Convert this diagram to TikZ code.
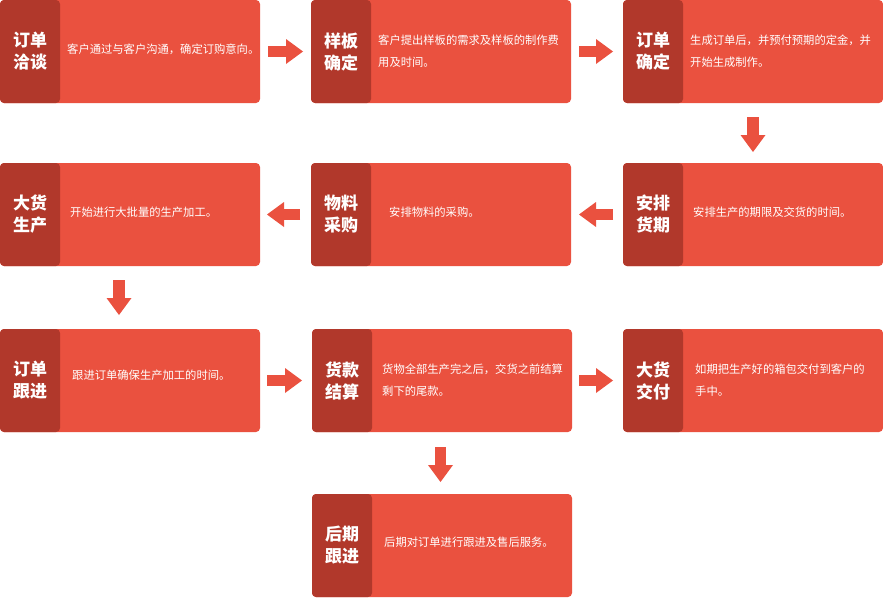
\documentclass[tikz,border=0pt]{standalone}
\usepackage{fontspec}
\newfontfamily\cjk{Noto Sans CJK SC}
\usetikzlibrary{arrows.meta}
\definecolor{boxred}{RGB}{234,81,63}
\definecolor{boxdark}{RGB}{177,56,43}

\begin{document}
\begin{tikzpicture}[x=1pt, y=1pt,
	card/.style={rectangle, rounded corners=4pt, fill=boxred, minimum width=260pt, minimum height=103pt, inner sep=0pt, outer sep=0pt,
		path picture={\fill[boxdark] (path picture bounding box.north west) rectangle ([xshift=60pt]path picture bounding box.south west);}},
	stagename/.style={text=white, font=\cjk\bfseries\fontsize{17}{22}\selectfont, align=center, inner sep=0pt},
	stagetext/.style={text=white, font=\cjk\fontsize{11.3}{22}\selectfont, align=left, anchor=west, inner sep=0pt},
	flow/.style={draw=boxred, line width=11.5pt, -{Triangle[length=17pt, width=25pt, line width=0pt]}}]
			\useasboundingbox (0,0) rectangle (883,-597);
			\node[card] (talk) at (130,-51.5) {};
			\node[stagename] (talk-n) at ([xshift=30]talk.west) {订单\\洽谈};
			\node[stagetext] (talk-d) at ([xshift=67,yshift=2]talk.west) {客户通过与客户沟通，确定订购意向。};
			\node[card] (sample) at (441,-51.5) {};
			\node[stagename] (sample-n) at ([xshift=30]sample.west) {样板\\确定};
			\node[stagetext] (sample-d) at ([xshift=67]sample.west) {客户提出样板的需求及样板的制作费\\用及时间。};
			\draw[flow] ([xshift=8]talk.east) -- ([xshift=-8]sample.west);
			\node[card] (confirm) at (753,-51.5) {};
			\node[stagename] (confirm-n) at ([xshift=30]confirm.west) {订单\\确定};
			\node[stagetext] (confirm-d) at ([xshift=67]confirm.west) {生成订单后，并预付预期的定金，并\\开始生成制作。};
			\draw[flow] ([xshift=8]sample.east) -- ([xshift=-10]confirm.west);
			\node[card] (sched) at (753,-214.5) {};
			\node[stagename] (sched-n) at ([xshift=30]sched.west) {安排\\货期};
			\node[stagetext] (sched-d) at ([xshift=70,yshift=2]sched.west) {安排生产的期限及交货的时间。};
			\draw[flow] ([yshift=-14]confirm.south) -- ([yshift=11]sched.north);
			\node[card] (purch) at (441,-214.5) {};
			\node[stagename] (purch-n) at ([xshift=30]purch.west) {物料\\采购};
			\node[stagetext] (purch-d) at ([xshift=78,yshift=2]purch.west) {安排物料的采购。};
			\draw[flow] ([xshift=-10]sched.west) -- ([xshift=8]purch.east);
			\node[card] (prod) at (130,-214.5) {};
			\node[stagename] (prod-n) at ([xshift=30]prod.west) {大货\\生产};
			\node[stagetext] (prod-d) at ([xshift=70,yshift=2]prod.west) {开始进行大批量的生产加工。};
			\draw[flow] ([xshift=-11]purch.west) -- ([xshift=7]prod.east);
			\node[card] (track) at (130,-380.5) {};
			\node[stagename] (track-n) at ([xshift=30]track.west) {订单\\跟进};
			\node[stagetext] (track-d) at ([xshift=72,yshift=5]track.west) {跟进订单确保生产加工的时间。};
			\draw[flow] ([xshift=-11,yshift=-14]prod.south) -- ([xshift=-11,yshift=14]track.north);
			\node[card] (pay) at (442,-380.5) {};
			\node[stagename] (pay-n) at ([xshift=30]pay.west) {货款\\结算};
			\node[stagetext] (pay-d) at ([xshift=70]pay.west) {货物全部生产完之后，交货之前结算\\剩下的尾款。};
			\draw[flow] ([xshift=7]track.east) -- ([xshift=-10]pay.west);
			\node[card] (deliv) at (753,-380.5) {};
			\node[stagename] (deliv-n) at ([xshift=30]deliv.west) {大货\\交付};
			\node[stagetext] (deliv-d) at ([xshift=72]deliv.west) {如期把生产好的箱包交付到客户的\\手中。};
			\draw[flow] ([xshift=7]pay.east) -- ([xshift=-10]deliv.west);
			\node[card] (after) at (442,-545.5) {};
			\node[stagename] (after-n) at ([xshift=30]after.west) {后期\\跟进};
			\node[stagetext] (after-d) at ([xshift=72,yshift=3]after.west) {后期对订单进行跟进及售后服务。};
			\draw[flow] ([xshift=-1.5,yshift=-15]pay.south) -- ([xshift=-1.5,yshift=12]after.north);
		\end{tikzpicture}
\end{document}
